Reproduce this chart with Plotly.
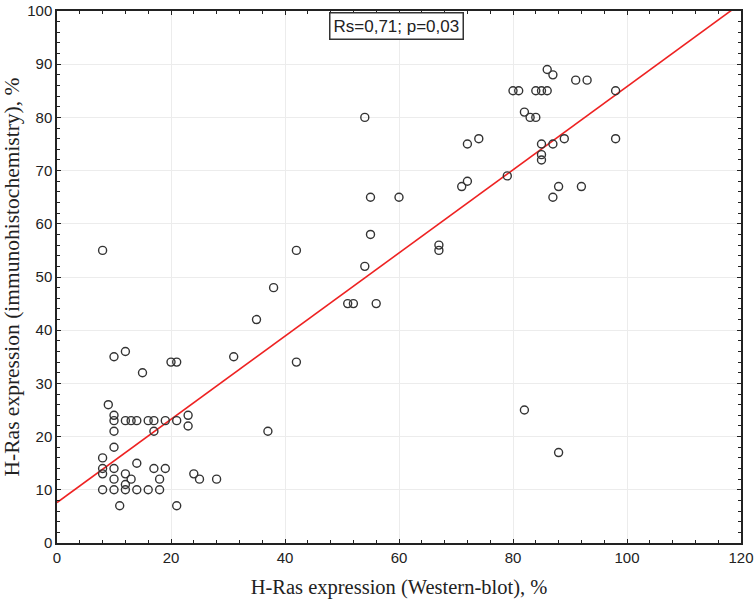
import plotly.graph_objects as go

# Western-blot expression (%) vs immunohistochemistry expression (%)
x_wb = [8, 8, 8, 8, 8, 9,
        10, 10, 10, 10, 10, 10, 10, 10, 11,
        12, 12, 12, 12, 12, 13, 13, 14, 14, 14, 15, 16, 16,
        17, 17, 17, 18, 18, 19, 19, 20, 21, 21, 21, 23, 23,
        24, 25, 28, 31, 35, 37, 38, 42, 42, 51, 52, 56, 54, 54,
        55, 55, 60, 67, 67, 71, 72, 72, 74, 79,
        80, 81, 84, 85, 86, 86, 87, 82, 83, 84, 82,
        85, 85, 85, 87, 87, 88, 88, 89, 91, 93, 92, 98, 98]
y_ihc = [55, 16, 14, 13, 10, 26,
         35, 24, 23, 21, 18, 14, 12, 10, 7,
         36, 23, 13, 11, 10, 23, 12, 23, 15, 10, 32, 23, 10,
         23, 21, 14, 12, 10, 23, 14, 34, 34, 23, 7, 24, 22,
         13, 12, 12, 35, 42, 21, 48, 55, 34, 45, 45, 45, 80, 52,
         65, 58, 65, 56, 55, 67, 68, 75, 76, 69,
         85, 85, 85, 85, 85, 89, 88, 81, 80, 80, 25,
         75, 73, 72, 75, 65, 67, 17, 76, 87, 87, 67, 85, 76]

# Regression line parameters (as drawn on the original)
fit_intercept = 7.6
fit_slope = 0.782
x_range = [0, 120]
y_range = [0, 100]
stat_text = "Rs=0,71; p=0,03"

fit_x = list(x_range)
fit_y = [fit_intercept + fit_slope * v for v in fit_x]

fig = go.Figure()
fig.add_trace(go.Scatter(
    x=fit_x, y=fit_y, mode="lines",
    line=dict(color="#ee2222", width=1.6),
    hoverinfo="skip", showlegend=False,
))
fig.add_trace(go.Scatter(
    x=x_wb, y=y_ihc, mode="markers",
    marker=dict(symbol="circle-open", size=8, color="#333333",
                line=dict(width=1.4, color="#333333")),
    showlegend=False,
))

axis_common = dict(
    showline=True, linecolor="#222222", linewidth=1.5, mirror="allticks",
    ticks="inside", ticklen=4, tickcolor="#222222", tickwidth=1,
    showgrid=True, gridcolor="#ececec", gridwidth=1, zeroline=False,
    automargin=False, ticklabeloverflow="allow",
    tickfont=dict(family="Liberation Sans, Arial, sans-serif", size=15, color="#222222"),
)

fig.update_xaxes(
    range=x_range, dtick=20, tick0=0,
    minor=dict(dtick=4, ticks="inside", ticklen=3, tickcolor="#222222", showgrid=False),
    title=dict(text="H-Ras expression (Western-blot), %",
               font=dict(family="Liberation Serif, Times New Roman, serif", size=20.5, color="#222222"),
               standoff=15),
    **axis_common,
)
fig.update_yaxes(
    range=y_range, dtick=10, tick0=0,
    minor=dict(dtick=2, ticks="inside", ticklen=3, tickcolor="#222222", showgrid=False),
    title=dict(text="H-Ras expression (immunohistochemistry), %",
               font=dict(family="Liberation Serif, Times New Roman, serif", size=21.5, color="#222222"),
               standoff=6),
    **axis_common,
)

fig.add_annotation(
    x=59.5, y=0.972, xref="x", yref="paper", text=stat_text, showarrow=False,
    xanchor="center", yanchor="middle",
    font=dict(family="Liberation Sans, Arial, sans-serif", size=17, color="#222222"),
    bgcolor="white", bordercolor="#333333", borderwidth=1.5, borderpad=3,
)

fig.update_layout(
    width=756, height=605,
    margin=dict(l=57, r=15, t=11, b=62),
    plot_bgcolor="white", paper_bgcolor="white",
)

fig.write_html("out.html", config={"displayModeBar": False},
               post_script="document.body.style.margin='0';document.body.style.overflow='hidden';")
